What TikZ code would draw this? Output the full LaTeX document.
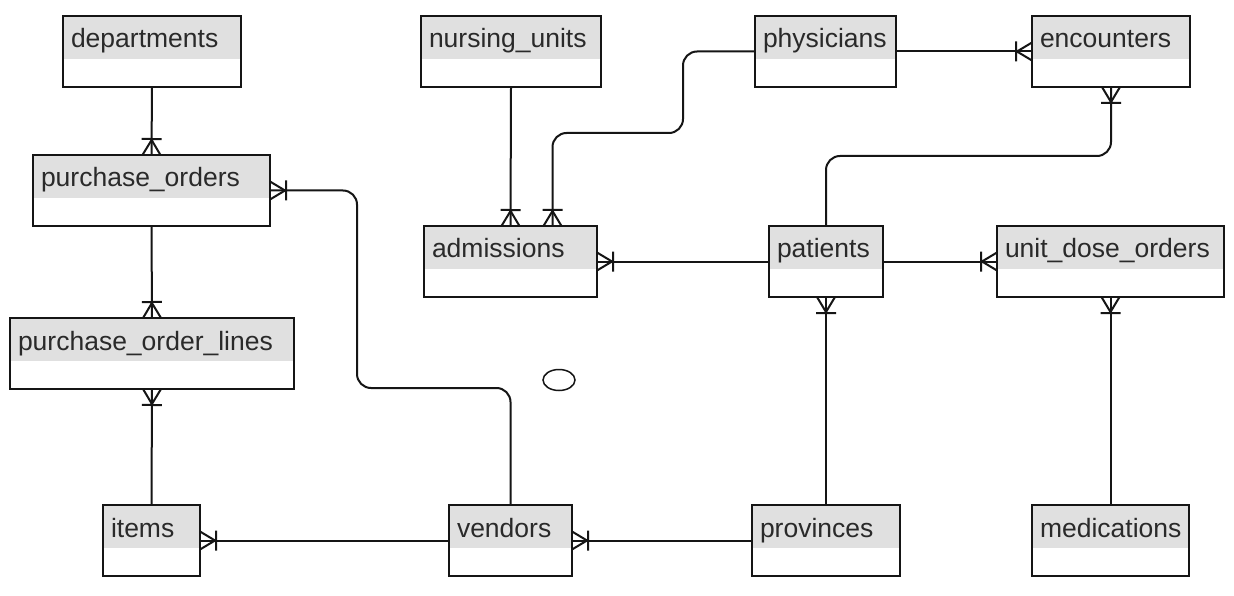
\documentclass[tikz,border=0pt]{standalone}
\usepackage{fontspec}
\setmainfont{Liberation Sans}
\usetikzlibrary{shapes.geometric}
\definecolor{hdr}{HTML}{E0E0E0}
\definecolor{ink}{HTML}{151515}
\definecolor{txt}{HTML}{2A2A2A}

\pgfdeclarearrow{
  name = crowfoot,
  setup code = {
    \pgfarrowssettipend{0pt}
    \pgfarrowssetlineend{0pt}
    \pgfarrowssetbackend{-16pt}
    \pgfarrowsupperhullpoint{0pt}{10pt}
    \pgfarrowsupperhullpoint{-16pt}{10pt}
  },
  drawing code = {
    \pgfsetdash{}{0pt}
    \pgfsetmiterjoin
    \pgfpathmoveto{\pgfqpoint{0pt}{9pt}}
    \pgfpathlineto{\pgfqpoint{-15pt}{0pt}}
    \pgfpathlineto{\pgfqpoint{0pt}{-9pt}}
    \pgfpathmoveto{\pgfqpoint{-16pt}{10pt}}
    \pgfpathlineto{\pgfqpoint{-16pt}{-10pt}}
    \pgfusepathqstroke
  }
}

\begin{document}
\begin{tikzpicture}[x=1pt,y=-1pt,
  entity/.style={draw=ink, line width=2pt, anchor=north west,
    inner xsep=8pt, inner ysep=0pt, outer sep=0pt,
    text height=32pt, text depth=39pt, align=left, text=txt,
    font=\fontsize{26.5}{30}\selectfont,
    execute at begin node={\hyphenpenalty=10000\exhyphenpenalty=10000},
    path picture={\fill[hdr] ([shift={(1pt,-1pt)}]path picture bounding box.north west)
       rectangle ([shift={(-1pt,-43pt)}]path picture bounding box.north east);}},
  rel/.style={draw=ink, line width=2pt, -crowfoot, rounded corners=14pt},
  oval/.style={draw=ink, line width=1.5pt, ellipse, minimum width=32pt, minimum height=21pt, inner sep=0pt}]
\useasboundingbox[fill=white] (0,0) rectangle (1234,596);

% entities
\node[entity, text width=162pt] (dep) at (63,16) {departments};
\node[entity, text width=164pt] (nu) at (421,16) {nursing\_units};
\node[entity, text width=125pt] (phy) at (755,16) {physicians};
\node[entity, text width=142pt] (enc) at (1032,16) {encounters};
\node[entity, text width=221pt] (po) at (33,155) {purchase\_orders};
\node[entity, text width=157pt] (adm) at (424,226) {admissions};
\node[entity, text width=98pt] (pat) at (769,226) {patients};
\node[entity, text width=211pt] (udo) at (997,226) {unit\_dose\_orders};
\node[entity, text width=268pt] (pol) at (10,318) {purchase\_order\_lines};
\node[entity, text width=81pt] (itm) at (103,505) {items};
\node[entity, text width=107pt] (ven) at (449,505) {vendors};
\node[entity, text width=132pt] (prov) at (752,505) {provinces};
\node[entity, text width=141pt] (med) at (1032,505) {medications};

\node[oval] (ov) at (559,380) {};

% relationships
\draw[rel] (dep.south) -- (po.north);
\draw[rel] (po.south) -- (pol.north);
\draw[rel] (itm.north) -- (pol.south);
\draw[rel] (ven.north) |- (357,388) |- (po.east);
\draw[rel] (ven.west) -- (itm.east);
\draw[rel] (prov.west) -- (ven.east);
\draw[rel] (prov.north) -- (pat.south);
\draw[rel] (pat.west) -- (adm.east);
\draw[rel] (pat.east) -- (udo.west);
\draw[rel] (med.north) -- (udo.south);
\draw[rel] (nu.south) -- (adm.north);
\draw[rel] (phy.west) -| (683,133) -| ([xshift=42pt]adm.north);
\draw[rel] (phy.east) -- (enc.west);
\draw[rel] (pat.north) |- (1111,156) -- (enc.south);
\end{tikzpicture}
\end{document}
